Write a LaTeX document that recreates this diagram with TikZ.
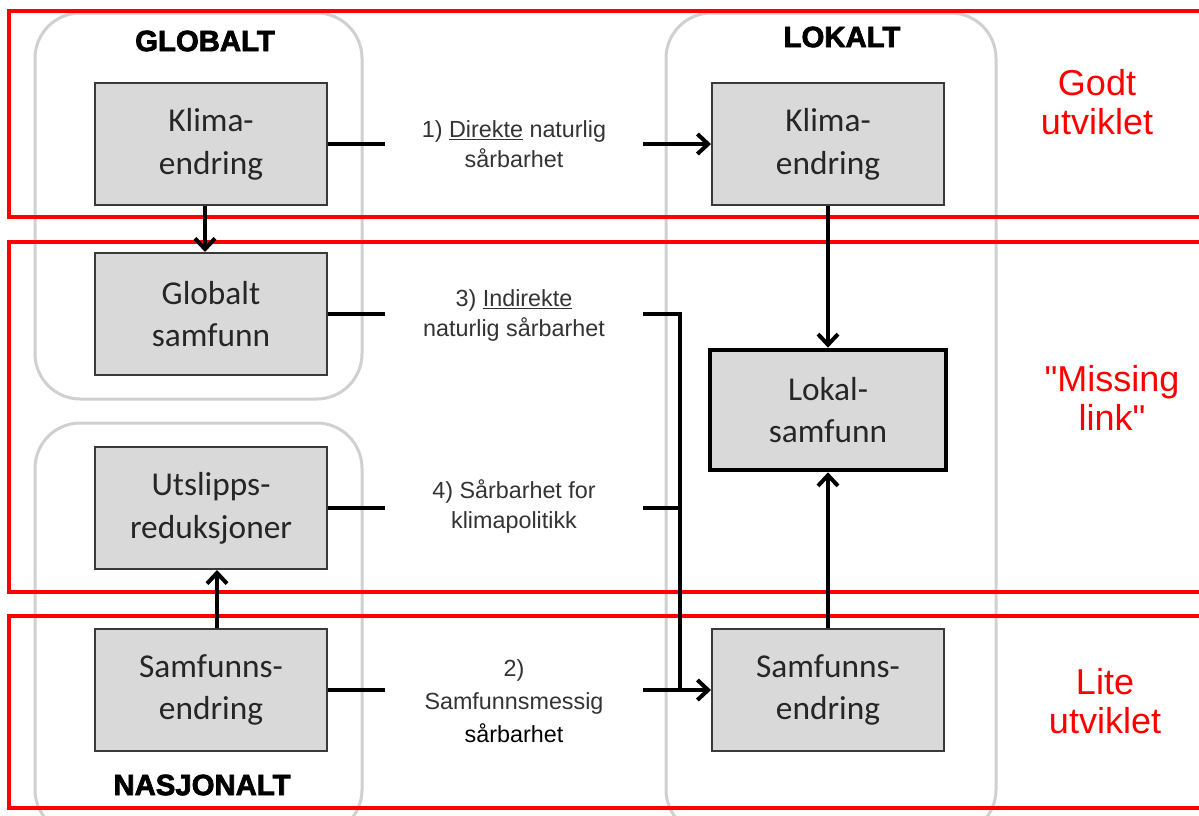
\documentclass[tikz,border=0pt]{standalone}
\usepackage{fontspec}
\setmainfont{Liberation Sans}
\newfontfamily\boxfont{Carlito}
\newfontfamily\redfont{Liberation Sans}
\newfontfamily\titlefont[FakeBold=2.5]{Liberation Sans Bold}
\usetikzlibrary{arrows.meta}
\definecolor{boxfill}{HTML}{D9D9D9}
\definecolor{boxline}{HTML}{3A3A3A}
\definecolor{boxtext}{HTML}{262626}
\definecolor{labtext}{HTML}{333333}
\definecolor{areagray}{HTML}{D0D0D0}
\begin{document}
\begin{tikzpicture}[x=0.75pt,y=-0.75pt,
 box/.style={draw=boxline, line width=1.5pt, fill=boxfill, minimum width=174pt, minimum height=91.5pt, inner sep=0pt, align=center, font=\boxfont\fontsize{25}{32}\selectfont, text=boxtext},
 lab/.style={minimum width=193.5pt, inner sep=0pt, align=center, font=\fontsize{17.5}{22.5}\selectfont, text=labtext},
 ttl/.style={font=\titlefont\fontsize{22}{24}\selectfont},
 rlab/.style={text=red, align=center, font=\redfont\fontsize{27}{29}\selectfont},
 area/.style={draw=areagray, line width=2.25pt, rounded corners=34pt},
 band/.style={draw=red, line width=3pt},
 conn/.style={line width=3pt},
 arr/.style={conn, -{Straight Barb[length=8pt,width=15pt]}}
]
\useasboundingbox (0,0) rectangle (1199,815);
\clip (0,0) rectangle (1199,815);
% grey areas
\draw[area] (35,13) rectangle (362,399);
\draw[area] (35,423) rectangle (362,835);
\draw[area] (666,13) rectangle (996,835);
% red bands
\draw[band] (9,11) rectangle (1230,217);
\draw[band] (9,242) rectangle (1230,592);
\draw[band] (9,616) rectangle (1230,808);
% titles
\node[ttl] (tg) at (205,41) {GLOBALT};
\node[ttl] (tl) at (842,37) {LOKALT};
\node[ttl] (tn) at (202,785) {NASJONALT};
% red labels
\node[rlab] (r1) at (1097,102) {Godt\\utviklet};
\node[rlab] (r2) at (1112,398) {"Missing\\link"};
\node[rlab] (r3) at (1105,701) {Lite\\utviklet};
% boxes
\node[box] (gk) at (211,144) {Klima-\\endring};
\node[box] (gs) at (211,314) {Globalt\\samfunn};
\node[box] (us) at (211,508) {Utslipps-\\reduksjoner};
\node[box] (ns) at (211,690) {Samfunns-\\endring};
\node[box] (lk) at (828,144) {Klima-\\endring};
\node[box, draw=black, line width=3.5pt, minimum width=177pt, minimum height=90pt] (lo) at (828,410) {Lokal-\\samfunn};
\node[box] (ls) at (828,690) {Samfunns-\\endring};
% connector labels
\node[lab] (l1) at (514,144) {1) \underline{Direkte} naturlig\\sårbarhet};
\node[lab] (l3) at (514,315) {3) \underline{Indirekte}\\naturlig sårbarhet};
\node[lab] (l4) at (514,507) {4) Sårbarhet for\\klimapolitikk};
\node[lab, font=\fontsize{17.5}{25}\selectfont] (l2) at (514,701) {2)\\Samfunnsmessig\\\textcolor{black}{sårbarhet}};
\coordinate (j) at (680,690);
% connectors
\draw[conn] (gk.east) -- (gk.east -| l1.west);
\draw[arr] (l1.east |- lk.west) -- (lk.west);
\draw[conn] (gs.east) -- (gs.east -| l3.west);
\draw[conn] (gs.east -| l3.east) -- (gs.east -| j) -- (j);
\draw[conn] (us.east) -- (us.east -| l4.west);
\draw[conn] (us.east -| l4.east) -- (us.east -| j);
\draw[conn] (ns.east) -- (ns.east -| l2.west);
\draw[arr] (ns.east -| l2.east) -- (ls.west);
\draw[arr] ([xshift=-4.5pt]gk.south) -- ([xshift=-4.5pt]gs.north);
\draw[arr] ([xshift=4.5pt]ns.north) -- ([xshift=4.5pt]us.south);
\draw[arr] (lk.south) -- (lo.north);
\draw[arr] (ls.north) -- (lo.south);
\end{tikzpicture}
\end{document}
